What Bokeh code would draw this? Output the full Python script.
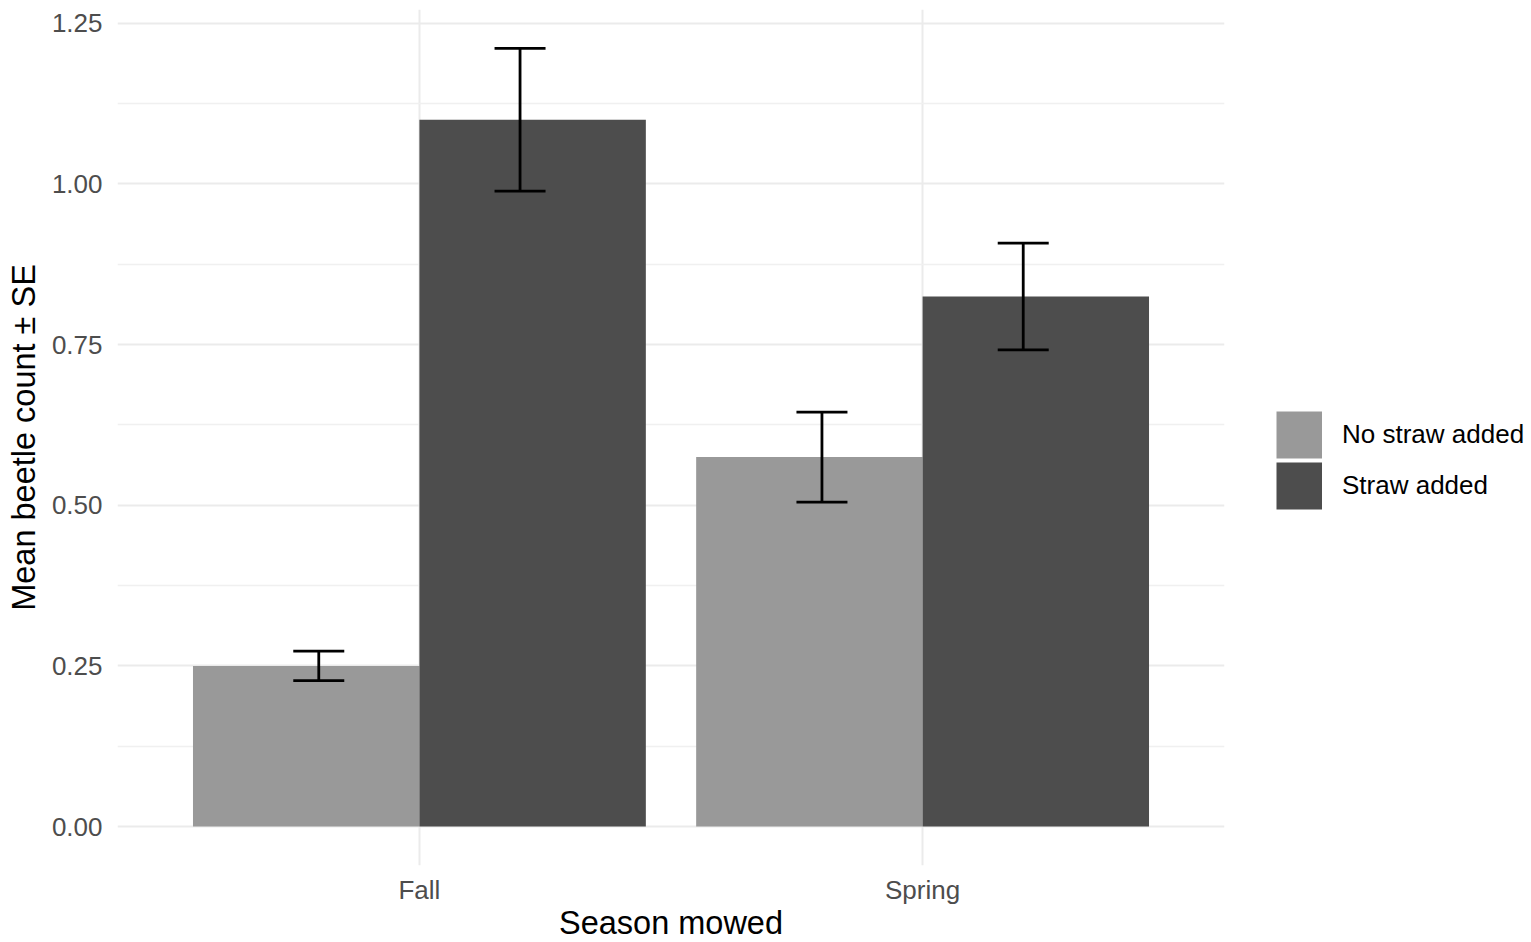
from bokeh.plotting import figure
from bokeh.models import (ColumnDataSource, FactorRange, Range1d, FixedTicker, Legend,
                          LegendItem, Whisker, TeeHead, CustomJSTickFormatter)
from bokeh.transform import dodge
from bokeh.embed import file_html
from bokeh.resources import INLINE

seasons = ["Fall", "Spring"]
groups = ["No straw added", "Straw added"]
no_straw_mean = [0.25, 0.575]
no_straw_se = [0.023, 0.07]
straw_mean = [1.10, 0.825]
straw_se = [0.111, 0.083]
colors = ["#999999", "#4D4D4D"]
y_ticks = [0.0, 0.25, 0.5, 0.75, 1.0, 1.25]
y_minor = [0.125, 0.375, 0.625, 0.875, 1.125]

FONT = "Liberation Sans"

x_range = FactorRange(factors=seasons, range_padding=0.1, range_padding_units="absolute")
top_val = max(m + s for m, s in zip(straw_mean + no_straw_mean, straw_se + no_straw_se))
pad = top_val * 0.05
p = figure(x_range=x_range, y_range=Range1d(-pad, top_val + pad),
           frame_width=1107, frame_height=856, output_backend="svg", toolbar_location=None,
           min_border_left=117, min_border_top=9, min_border_right=0, min_border_bottom=0)

p.outline_line_color = None
p.background_fill_color = "white"
p.border_fill_color = "white"

bar_offsets = [-0.225, 0.225]
err_offsets = [-0.2, 0.2]
for g, means, ses, col, off, eoff in zip(groups, [no_straw_mean, straw_mean],
                                         [no_straw_se, straw_se], colors, bar_offsets, err_offsets):
    src = ColumnDataSource(dict(season=seasons, mean=means,
                                lower=[m - s for m, s in zip(means, ses)],
                                upper=[m + s for m, s in zip(means, ses)]))
    p.vbar(x=dodge("season", off, range=x_range), top="mean", bottom=0, width=0.45,
           source=src, fill_color=col, line_color=None)
    w = Whisker(base=dodge("season", eoff, range=x_range), upper="upper", lower="lower",
                source=src, line_color="black", line_width=2.8, level="overlay",
                upper_head=TeeHead(size=51, line_color="black", line_width=2.8),
                lower_head=TeeHead(size=51, line_color="black", line_width=2.8))
    p.add_layout(w)

# legend proxies (thick line legend glyph = full square key), drawing nothing in the plot
proxies = []
for g, col in zip(groups, colors):
    proxies.append((g, p.line(x=seasons, y=[float("nan")] * len(seasons), line_color=col,
                              line_width=47, line_cap="butt")))

# axes
p.yaxis.ticker = FixedTicker(ticks=y_ticks, minor_ticks=y_minor)
p.yaxis.formatter = CustomJSTickFormatter(code="return tick.toFixed(2);")
for ax in (p.xaxis[0], p.yaxis[0]):
    ax.axis_line_color = None
    ax.major_tick_line_color = None
    ax.minor_tick_line_color = None
    ax.major_tick_out = 0
    ax.minor_tick_out = 0
    ax.major_label_text_font = FONT
    ax.major_label_text_font_size = "26px"
    ax.major_label_text_color = "#4D4D4D"
    ax.axis_label_text_font = FONT
    ax.axis_label_text_font_size = "32.5px"
    ax.axis_label_text_font_style = "normal"
    ax.axis_label_text_color = "black"
p.xaxis.axis_label = "Season mowed"
p.yaxis.axis_label = "Mean beetle count \u00b1 SE"
p.xaxis.major_label_standoff = 9
p.xaxis.axis_label_standoff = -3
p.yaxis.major_label_standoff = 15
p.yaxis.axis_label_standoff = 7

# grids
p.ygrid.grid_line_color = "#EBEBEB"
p.ygrid.grid_line_width = 2
p.ygrid.minor_grid_line_color = "#F0F0F0"
p.ygrid.minor_grid_line_width = 1.5
p.xgrid.grid_line_color = "#EBEBEB"
p.xgrid.grid_line_width = 2

legend = Legend(items=[LegendItem(label=g, renderers=[r]) for g, r in proxies],
                location=(52, 354), glyph_width=46, glyph_height=51, spacing=0,
                label_standoff=20, label_text_font=FONT, label_text_font_size="26px",
                label_text_color="black", padding=0, margin=26, border_line_color=None,
                background_fill_alpha=0, label_height=51)
p.add_layout(legend, "right")

open("out.html", "w").write(file_html(p, INLINE))
